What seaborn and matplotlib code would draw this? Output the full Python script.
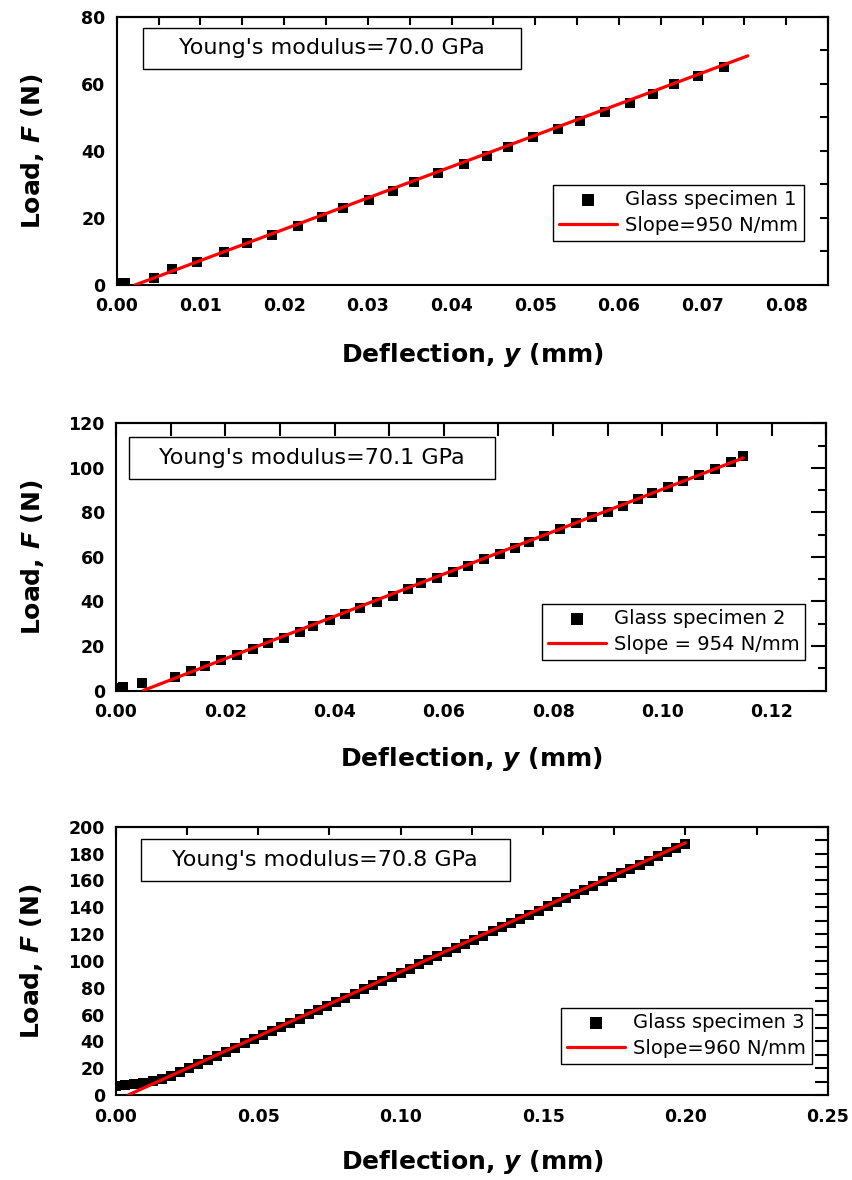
import numpy as np
import pandas as pd
import seaborn as sns
import matplotlib.pyplot as plt
from matplotlib.ticker import MultipleLocator, FormatStrFormatter
from matplotlib.patches import Rectangle

# ---- specimen 1 ----
x1 = [0.0003, 0.0010, 0.0045, 0.0066, 0.0096, 0.0128, 0.0156, 0.0186, 0.0217, 0.0245,
      0.0270, 0.0301, 0.0330, 0.0355, 0.0384, 0.0415, 0.0443, 0.0468, 0.0497, 0.0527,
      0.0554, 0.0583, 0.0613, 0.0641, 0.0666, 0.0695, 0.0725]
y1 = [0.5, 0.5, 2.0, 4.7, 7.0, 9.8, 12.4, 14.9, 17.7, 20.2,
      22.9, 25.4, 28.1, 30.6, 33.3, 36.0, 38.6, 41.3, 44.1, 46.5,
      49.0, 51.7, 54.2, 57.0, 59.9, 62.4, 65.0]
fit1_x = [0.0022, 0.0754]
fit1_y = [0.0, 68.4]

# ---- specimen 2 ----
x2 = [0.0005, 0.0013, 0.0047, 0.0108, 0.0137, 0.0163, 0.0193, 0.0221, 0.0251, 0.0279,
      0.0308, 0.0337, 0.0361, 0.0392, 0.0420, 0.0446, 0.0477, 0.0507, 0.0534, 0.0559,
      0.0588, 0.0617, 0.0645, 0.0674, 0.0703, 0.0731, 0.0756, 0.0783, 0.0812, 0.0842,
      0.0872, 0.0901, 0.0928, 0.0955, 0.0981, 0.1011, 0.1038, 0.1066, 0.1096, 0.1125,
      0.1148]
y2 = [1.0, 1.5, 3.5, 6.0, 8.7, 11.0, 13.5, 16.1, 18.5, 21.3,
      23.8, 26.3, 29.0, 31.9, 34.6, 37.1, 39.6, 42.4, 45.4, 48.1,
      50.7, 53.1, 55.9, 58.9, 61.3, 64.2, 66.9, 69.6, 72.5, 75.2,
      77.9, 80.4, 83.0, 86.0, 88.7, 91.3, 94.0, 97.0, 99.5, 102.5,
      105.5]
fit2_x = [0.0050, 0.1148]
fit2_y = [0.0, 104.5]

# ---- specimen 3 ----
x3 = [0.0000, 0.0032, 0.0065, 0.0097, 0.0129, 0.0161, 0.0194, 0.0226, 0.0258, 0.0290,
      0.0323, 0.0355, 0.0387, 0.0419, 0.0452, 0.0484, 0.0516, 0.0548, 0.0581, 0.0613,
      0.0645, 0.0677, 0.0710, 0.0742, 0.0774, 0.0806, 0.0839, 0.0871, 0.0903, 0.0935,
      0.0968, 0.1000, 0.1032, 0.1065, 0.1097, 0.1129, 0.1161, 0.1194, 0.1226, 0.1258,
      0.1290, 0.1323, 0.1355, 0.1387, 0.1419, 0.1452, 0.1484, 0.1516, 0.1548, 0.1581,
      0.1613, 0.1645, 0.1677, 0.1710, 0.1742, 0.1774, 0.1806, 0.1839, 0.1871, 0.1903,
      0.1935, 0.1968, 0.2000]
y3 = [7.0, 7.5, 8.2, 9.2, 10.5, 12.2, 14.3, 16.9, 19.8, 22.9,
      26.1, 29.2, 32.2, 35.3, 38.5, 41.5, 44.6, 47.7, 50.8, 53.9,
      57.0, 60.1, 63.2, 66.3, 69.4, 72.4, 75.6, 78.7, 81.8, 84.8,
      88.0, 91.1, 94.1, 97.3, 100.4, 103.5, 106.5, 109.7, 112.8, 115.8,
      118.9, 122.1, 125.2, 128.2, 131.3, 134.5, 137.5, 140.6, 143.7, 146.8,
      149.9, 153.0, 156.1, 159.2, 162.3, 165.4, 168.4, 171.6, 174.7, 177.8,
      180.8, 184.0, 187.1]
fit3_x = [0.0043, 0.2000]
fit3_y = [0.0, 188.0]

point_labels = ['Glass specimen 1', 'Glass specimen 2', 'Glass specimen 3']
fit_labels = ['Slope=950 N/mm', 'Slope = 954 N/mm', 'Slope=960 N/mm']
modulus_text = ["Young's modulus=70.0 GPa", "Young's modulus=70.1 GPa", "Young's modulus=70.8 GPa"]

sns.set_style('white')
plt.rcParams['font.family'] = ['DejaVu Sans']
plt.rcParams['text.color'] = 'black'
plt.rcParams['axes.labelcolor'] = 'black'
plt.rcParams['xtick.color'] = 'black'
plt.rcParams['ytick.color'] = 'black'
plt.rcParams['mathtext.fontset'] = 'custom'
plt.rcParams['mathtext.it'] = 'DejaVu Sans:italic:bold'
plt.rcParams['mathtext.rm'] = 'DejaVu Sans:bold'

fig = plt.figure(figsize=(8.52, 11.8), dpi=100)

panels = [
    dict(rect=[0.137, 0.7585, 0.835, 0.2271], x=x1, y=y1, fx=fit1_x, fy=fit1_y,
         xlim=(0, 0.085), ylim=(0, 80), xmaj=0.01, xmin=0.005, ymaj=20, ymin=10,
         box=(0.0366, 0.806, 0.532, 0.153), leg=(0.966, 0.164),
         ticks=dict(bl=(11, 5.5), left=(11, 5.5), top=(5.5, 5.5), right=(5.5, 5.5)),
         xlab_y=-0.21),
    dict(rect=[0.136, 0.4148, 0.834, 0.2264], x=x2, y=y2, fx=fit2_x, fy=fit2_y,
         xlim=(0, 0.13), ylim=(0, 120), xmaj=0.02, xmin=0.01, ymaj=20, ymin=10,
         box=(0.0187, 0.790, 0.5153, 0.1576), leg=(0.970, 0.114),
         ticks=dict(bl=(11, 5.5), left=(11, 5.5), top=(9.5, 9.5), right=(11, 5.5)),
         xlab_y=-0.203),
    dict(rect=[0.136, 0.0720, 0.8357, 0.2274], x=x3, y=y3, fx=fit3_x, fy=fit3_y,
         xlim=(0, 0.25), ylim=(0, 200), xmaj=0.05, xmin=0.025, ymaj=20, ymin=10,
         box=(0.0347, 0.7976, 0.5187, 0.1554), leg=(0.977, 0.1155),
         ticks=dict(bl=(11, 5.5), left=(10, 10), top=(5.5, 5.5), right=(9.5, 9.5)),
         xlab_y=-0.197),
]

for i, p in enumerate(panels):
    ax = fig.add_axes(p['rect'])
    df = pd.DataFrame({'Deflection': p['x'], 'Load': p['y']})
    sns.scatterplot(data=df, x='Deflection', y='Load', marker='s', s=45, color='black',
                    linewidth=0, label=point_labels[i], ax=ax, zorder=2)
    sns.lineplot(x=p['fx'], y=p['fy'], color='red', linewidth=2.3,
                 label=fit_labels[i], ax=ax, zorder=3)

    ax.set_xlim(*p['xlim'])
    ax.set_ylim(*p['ylim'])
    ax.xaxis.set_major_locator(MultipleLocator(p['xmaj']))
    ax.xaxis.set_minor_locator(MultipleLocator(p['xmin']))
    ax.yaxis.set_major_locator(MultipleLocator(p['ymaj']))
    ax.yaxis.set_minor_locator(MultipleLocator(p['ymin']))
    ax.xaxis.set_major_formatter(FormatStrFormatter('%.2f'))
    ax.yaxis.set_major_formatter(FormatStrFormatter('%d'))

    t = p['ticks']
    ax.tick_params(axis='both', which='both', direction='in', width=1.5,
                   top=False, right=False, labelsize=12.5, colors='black')
    ax.tick_params(axis='x', which='major', length=t['bl'][0], pad=9)
    ax.tick_params(axis='x', which='minor', length=t['bl'][1])
    ax.tick_params(axis='y', which='major', length=t['left'][0], pad=8)
    ax.tick_params(axis='y', which='minor', length=t['left'][1])
    plt.setp(ax.get_xticklabels() + ax.get_yticklabels(), fontweight='bold')

    top = ax.secondary_xaxis('top')
    top.xaxis.set_major_locator(MultipleLocator(p['xmaj']))
    top.xaxis.set_minor_locator(MultipleLocator(p['xmin']))
    top.tick_params(axis='x', which='major', direction='in', length=t['top'][0], width=1.5, labeltop=False)
    top.tick_params(axis='x', which='minor', direction='in', length=t['top'][1], width=1.5)
    right = ax.secondary_yaxis('right')
    right.yaxis.set_major_locator(MultipleLocator(p['ymaj']))
    right.yaxis.set_minor_locator(MultipleLocator(p['ymin']))
    right.tick_params(axis='y', which='major', direction='in', length=t['right'][0], width=1.5, labelright=False)
    right.tick_params(axis='y', which='minor', direction='in', length=t['right'][1], width=1.5)
    for sec in (top, right):
        for s in sec.spines.values():
            s.set_linewidth(1.5)
            s.set_color('black')

    for s in ax.spines.values():
        s.set_linewidth(1.5)
        s.set_color('black')
        s.set_visible(True)

    ax.set_xlabel('Deflection, $y$ (mm)', fontsize=18, fontweight='bold', color='black')
    ax.set_ylabel('Load, $F$ (N)', fontsize=18, fontweight='bold', color='black')
    ax.xaxis.set_label_coords(0.5, p['xlab_y'])
    ax.yaxis.set_label_coords(-0.099, 0.5)

    bx, by, bw, bh = p['box']
    ax.add_patch(Rectangle((bx, by), bw, bh, transform=ax.transAxes, facecolor='white',
                           edgecolor='black', linewidth=1.0, zorder=5))
    ax.text(bx + bw / 2, by + bh / 2, modulus_text[i], transform=ax.transAxes,
            ha='center', va='center', fontsize=16, color='black', zorder=6)

    leg = ax.legend(loc='lower right', bbox_to_anchor=p['leg'], frameon=True, fancybox=False,
                    edgecolor='black', fontsize=14, handlelength=3.0, handletextpad=0.4,
                    borderpad=0.3, labelspacing=0.35, borderaxespad=0, markerscale=1.2,
                    labelcolor='black')
    leg.get_frame().set_linewidth(1.0)
    leg.get_frame().set_alpha(1)

fig.savefig('out.png', dpi=100, facecolor='white')
